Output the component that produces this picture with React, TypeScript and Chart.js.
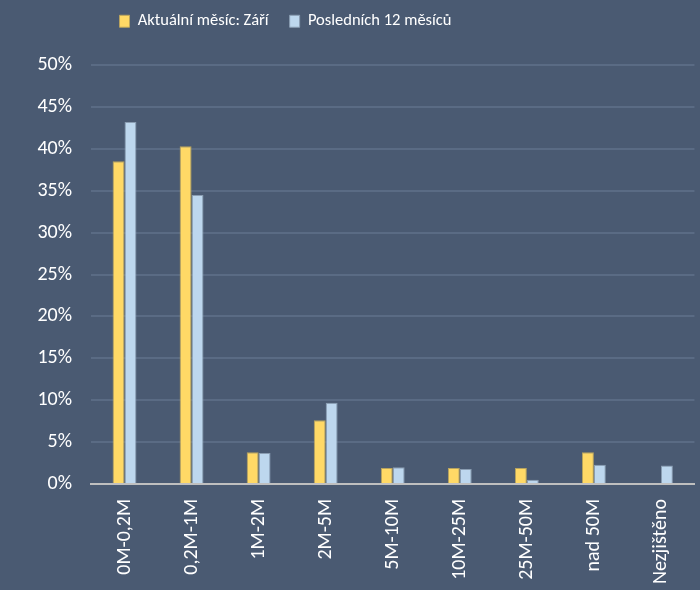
import React, { useEffect, useRef } from "react";
import { Chart, registerables } from "chart.js";

Chart.register(...registerables);

const categories = ["0M-0,2M", "0,2M-1M", "1M-2M", "2M-5M", "5M-10M", "10M-25M", "25M-50M", "nad 50M", "Nezjištěno"];
const currentMonth = [38.5, 40.3, 3.8, 7.6, 1.9, 1.9, 1.9, 3.8, 0];
const last12Months = [43.2, 34.5, 3.7, 9.7, 2.0, 1.8, 0.5, 2.3, 2.2];
const seriesLabels = ["Aktuální měsíc: Září", "Posledních 12 měsíců"];

const BG = "#4A5A72";
const FONT = "Carlito, Lato, 'Liberation Sans', sans-serif";

export default function App() {
  const ref = useRef<HTMLCanvasElement | null>(null);
  useEffect(() => {
    if (!ref.current) return;
    const chart = new Chart(ref.current, {
      type: "bar",
      data: {
        labels: categories,
        datasets: [
          {
            label: seriesLabels[0],
            data: currentMonth,
            backgroundColor: "#FFD966",
            borderColor: "#B8A35E",
            borderWidth: 1,
          },
          {
            label: seriesLabels[1],
            data: last12Months,
            backgroundColor: "#BDD7EE",
            borderColor: "#8A9DB2",
            borderWidth: 1,
          },
        ],
      },
      options: {
        responsive: false,
        animation: false,
        maintainAspectRatio: false,
        layout: { padding: { left: 0, right: 1, top: 0, bottom: 0 } },
        datasets: { bar: { categoryPercentage: 0.356, barPercentage: 1 } },
        plugins: {
          legend: {
            position: "top",
            labels: {
              color: "#FFFFFF",
              font: { family: FONT, size: 16.5 },
              boxWidth: 10,
              boxHeight: 12,
              padding: 21,
            },
          },
          tooltip: { enabled: false },
        },
        scales: {
          x: {
            grid: { display: false, drawTicks: false },
            border: { display: true, color: "#BFBFBF", width: 2 },
            ticks: {
              color: "#FFFFFF",
              font: { family: FONT, size: 20 },
              maxRotation: 90,
              minRotation: 90,
              padding: 15,
              autoSkip: false,
            },
            afterFit: (s: any) => {
              s.height = 106;
            },
          },
          y: {
            min: 0,
            max: 50,
            ticks: {
              stepSize: 5,
              color: "#FFFFFF",
              font: { family: FONT, size: 20 },
              padding: 19,
              callback: (v: any) => v + "%",
            },
            grid: { color: "#5A6B84", lineWidth: 2, drawTicks: false },
            border: { display: false },
            afterFit: (s: any) => {
              s.width = 91;
            },
          },
        },
      },
      plugins: [
        {
          id: "bg",
          afterInit: (c: any) => {
            const lg = c.legend;
            if (!lg) return;
            const origFit = lg.fit.bind(lg);
            lg.fit = function () {
              origFit();
              this.height = 65;
            };
            const origDraw = lg.draw.bind(lg);
            lg.draw = function () {
              const ctx = c.ctx;
              ctx.save();
              ctx.translate(-64, -8);
              origDraw();
              ctx.restore();
            };
          },
          beforeDraw: (c: any) => {
            const ctx = c.ctx;
            ctx.save();
            ctx.fillStyle = BG;
            ctx.fillRect(0, 0, c.width, c.height);
            ctx.restore();
          },
        },
      ],
    });
    return () => chart.destroy();
  }, []);
  return (
    <div style={{ position: "absolute", left: 0, top: 0, width: 700, height: 590, background: BG }}>
      <canvas ref={ref} width={700} height={590} style={{ display: "block" }} />
    </div>
  );
}
